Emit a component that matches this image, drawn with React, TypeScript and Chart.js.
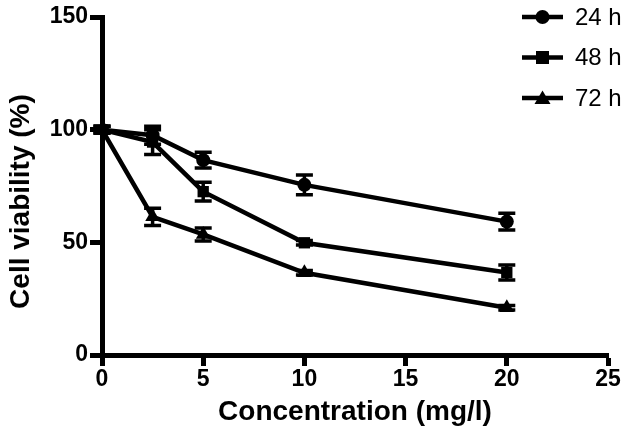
import React, { useEffect, useRef } from "react";
import { Chart, registerables } from "chart.js";

Chart.register(...registerables);

const concentrations = [0, 2.5, 5, 10, 20];
const seriesLabels = ["24 h", "48 h", "72 h"];
const viability24 = [100, 97.5, 86.5, 75.5, 59.2];
const error24 = [1.5, 4, 3.5, 4.4, 3.7];
const viability48 = [100, 94.5, 72.5, 49.8, 36.6];
const error48 = [1.5, 5.5, 4.2, 1, 3.3];
const viability72 = [100, 61.3, 53.5, 36.5, 21];
const error72 = [1.5, 3.8, 2.9, 1, 1];
const markerStyles = ["circle", "rect", "triangle"];
const xTicks = [0, 5, 10, 15, 20, 25];
const yTicks = [0, 50, 100, 150];
const xTitle = "Concentration (mg/l)";
const yTitle = "Cell viability (%)";

const allValues = [viability24, viability48, viability72];
const allErrors = [error24, error48, error72];

const FONT = "'Liberation Sans', Arial, sans-serif";

const errorBarPlugin = {
  id: "errorBars",
  afterDatasetsDraw(chart: any) {
    const ctx = chart.ctx;
    const yScale = chart.scales.y;
    chart.data.datasets.forEach((ds: any, i: number) => {
      const meta = chart.getDatasetMeta(i);
      const errs = allErrors[i];
      meta.data.forEach((pt: any, j: number) => {
        const v = allValues[i][j];
        const e = errs[j];
        const yTop = yScale.getPixelForValue(v + e);
        const yBot = yScale.getPixelForValue(v - e);
        const x = pt.x;
        ctx.save();
        ctx.strokeStyle = "#000";
        ctx.lineWidth = 3.5;
        ctx.beginPath();
        ctx.moveTo(x, yTop);
        ctx.lineTo(x, yBot);
        ctx.moveTo(x - 8.5, yTop);
        ctx.lineTo(x + 8.5, yTop);
        ctx.moveTo(x - 8.5, yBot);
        ctx.lineTo(x + 8.5, yBot);
        ctx.stroke();
        ctx.restore();
      });
    });
  },
};

const legendPlugin = {
  id: "customLegend",
  afterDraw(chart: any) {
    const ctx = chart.ctx;
    const x0 = 522;
    const x1 = 563;
    chart.data.datasets.forEach((ds: any, i: number) => {
      const y = 17 + i * 40.5;
      ctx.save();
      ctx.strokeStyle = "#000";
      ctx.fillStyle = "#000";
      ctx.lineWidth = 4.5;
      ctx.beginPath();
      ctx.moveTo(x0, y);
      ctx.lineTo(x1, y);
      ctx.stroke();
      const cx = (x0 + x1) / 2;
      const style = markerStyles[i];
      ctx.beginPath();
      if (style === "circle") {
        ctx.arc(cx, y, 7, 0, Math.PI * 2);
      } else if (style === "rect") {
        ctx.rect(cx - 6.5, y - 6.5, 13, 13);
      } else {
        ctx.moveTo(cx, y - 7.5);
        ctx.lineTo(cx + 8, y + 6);
        ctx.lineTo(cx - 8, y + 6);
        ctx.closePath();
      }
      ctx.fill();
      ctx.font = "24px 'Liberation Sans', Arial, sans-serif";
      ctx.textBaseline = "middle";
      ctx.textAlign = "left";
      ctx.fillText(ds.label, 575, y + 1);
      ctx.restore();
    });
  },
};

export default function App() {
  const canvasRef = useRef<HTMLCanvasElement | null>(null);

  useEffect(() => {
    document.body.style.margin = "0";
    const canvas = canvasRef.current;
    if (!canvas) return;
    const datasets = allValues.map((vals, i) => ({
      label: seriesLabels[i],
      data: concentrations.map((c, j) => ({ x: c, y: vals[j] })),
      borderColor: "#000",
      backgroundColor: "#000",
      borderWidth: 4.5,
      pointStyle: markerStyles[i],
      pointRadius: markerStyles[i] === "rect" ? 8 : markerStyles[i] === "triangle" ? 8.5 : 7,
      pointBorderWidth: 0,
      pointBackgroundColor: "#000",
      tension: 0,
    }));
    const chart = new Chart(canvas, {
      type: "line",
      data: { datasets },
      options: {
        animation: false,
        responsive: false,
        maintainAspectRatio: false,
        layout: { padding: { top: 17, right: 22, left: 0, bottom: 0 } },
        plugins: {
          legend: { display: false },
          tooltip: { enabled: false },
        },
        scales: {
          x: {
            type: "linear",
            min: 0,
            max: 25,
            afterBuildTicks(scale: any) {
              scale.ticks = xTicks.map((v) => ({ value: v }));
            },
            afterFit(scale: any) {
              scale.height = 83;
            },
            grid: {
              drawOnChartArea: false,
              drawTicks: true,
              tickLength: 11,
              tickWidth: 5,
              tickColor: "#000",
            },
            border: { display: true, color: "#000", width: 5 },
            ticks: {
              color: "#000",
              padding: 0,
              font: { family: FONT, size: 23, weight: "bold" },
            },
            title: {
              display: true,
              text: xTitle,
              color: "#000",
              padding: { top: 0, bottom: 9 },
              font: { family: FONT, size: 28, weight: "bold" },
            },
          },
          y: {
            type: "linear",
            min: 0,
            max: 150,
            afterBuildTicks(scale: any) {
              scale.ticks = yTicks.map((v) => ({ value: v }));
            },
            afterFit(scale: any) {
              scale.width = 102;
            },
            grid: {
              drawOnChartArea: false,
              drawTicks: true,
              tickLength: 12,
              tickWidth: 5,
              tickColor: "#000",
            },
            border: { display: true, color: "#000", width: 5 },
            ticks: {
              color: "#000",
              padding: 2,
              font: { family: FONT, size: 23, weight: "bold" },
            },
            title: {
              display: true,
              text: yTitle + "    ",
              color: "#000",
              padding: { top: 4, bottom: 0 },
              font: { family: FONT, size: 28, weight: "bold" },
            },
          },
        },
      },
      plugins: [errorBarPlugin, legendPlugin],
    });
    return () => chart.destroy();
  }, []);

  return (
    <div style={{ position: "fixed", left: 0, top: 0, width: 630, height: 438, background: "#fff" }}>
      <canvas ref={canvasRef} width={630} height={438} />
    </div>
  );
}
